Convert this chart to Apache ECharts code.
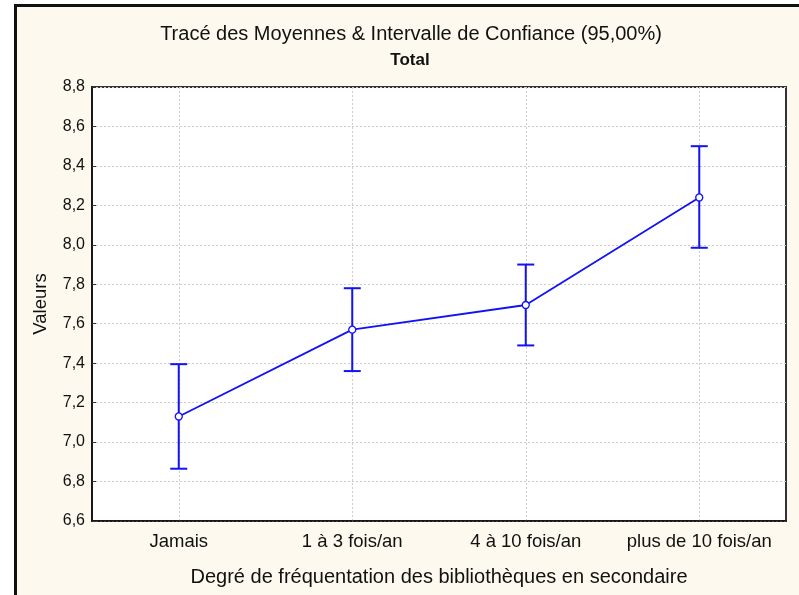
<!DOCTYPE html>
<html>
<head>
<meta charset="utf-8">
<script src="https://cdn.jsdelivr.net/npm/echarts@6/dist/echarts.min.js"></script>
<style>
  html, body { margin: 0; padding: 0; background: #ffffff; overflow: hidden; }
  #frame {
    position: absolute; left: 14px; top: 4px; width: 800px; height: 600px;
    border-left: 3px solid #111; border-top: 3px solid #111;
    background: #fef9ee;
  }
  #chart { position: absolute; left: 0; top: 0; width: 799px; height: 595px; }
</style>
</head>
<body>
<div id="frame"></div>
<div id="chart"></div>
<script>
const categories = ['Jamais', '1 à 3 fois/an', '4 à 10 fois/an', 'plus de 10 fois/an']
const means = [7.13, 7.57, 7.695, 8.24]
const lower = [6.865, 7.36, 7.49, 7.985]
const upper = [7.395, 7.78, 7.9, 8.5]

const blue = '#1212f5'
const font = 'Liberation Sans, Arial, sans-serif'

const errData = categories.map((c, i) => [i, lower[i], upper[i]])

const chart = echarts.init(document.getElementById('chart'))

function fmt(v) {
  return v.toFixed(1).replace('.', ',')
}

chart.setOption({
  backgroundColor: 'transparent',
  animation: false,
  title: [
    {
      text: 'Tracé des Moyennes & Intervalle de Confiance (95,00%)',
      left: 406,
      top: 19,
      textAlign: 'center',
      textStyle: { fontFamily: font, fontSize: 20, fontWeight: 'normal', color: '#111' }
    },
    {
      text: 'Total',
      left: 405,
      top: 47,
      textAlign: 'center',
      textStyle: { fontFamily: font, fontSize: 17, fontWeight: 'bold', color: '#111' }
    }
  ],
  grid: {
    left: 92,
    right: 13,
    top: 87,
    bottom: 74,
    show: true,
    backgroundColor: '#ffffff',
    borderColor: '#333',
    borderWidth: 2
  },
  xAxis: {
    type: 'category',
    data: categories,
    boundaryGap: true,
    name: 'Degré de fréquentation des bibliothèques en secondaire',
    nameLocation: 'middle',
    nameGap: 46,
    nameTextStyle: { fontFamily: font, fontSize: 20, color: '#111' },
    axisLine: { lineStyle: { color: '#111', width: 1.5 } },
    axisTick: { interval: 0, alignWithLabel: true, inside: true, length: 3, lineStyle: { color: '#333' } },
    axisLabel: { interval: 0, fontFamily: font, fontSize: 18.5, color: '#111', margin: 11 },
    splitLine: {
      show: true,
      interval: 0,
      alignWithLabel: true,
      lineStyle: { color: '#cccccc', type: [2, 2], width: 1 }
    }
  },
  yAxis: {
    type: 'value',
    min: 6.6,
    max: 8.8,
    interval: 0.2,
    name: 'Valeurs',
    nameLocation: 'middle',
    nameGap: 42,
    nameTextStyle: { fontFamily: font, fontSize: 18.5, color: '#111' },
    axisLine: { show: true, lineStyle: { color: '#111', width: 1.5 } },
    axisTick: { show: true, inside: true, length: 4, lineStyle: { color: '#333' } },
    axisLabel: { fontFamily: font, fontSize: 16, color: '#111', margin: 7, formatter: fmt },
    splitLine: {
      show: true,
      lineStyle: { color: '#cccccc', type: [2, 2], width: 1 }
    }
  },
  series: [
    {
      type: 'custom',
      data: errData,
      z: 2,
      renderItem(params, api) {
        const x = api.value(0)
        const lo = api.coord([x, api.value(1)])
        const hi = api.coord([x, api.value(2)])
        const hw = 8.5
        const style = { stroke: blue, lineWidth: 2 }
        return {
          type: 'group',
          children: [
            { type: 'line', shape: { x1: lo[0], y1: lo[1], x2: hi[0], y2: hi[1] }, style },
            { type: 'line', shape: { x1: hi[0] - hw, y1: hi[1], x2: hi[0] + hw, y2: hi[1] }, style },
            { type: 'line', shape: { x1: lo[0] - hw, y1: lo[1], x2: lo[0] + hw, y2: lo[1] }, style }
          ]
        }
      }
    },
    {
      type: 'line',
      data: means,
      z: 3,
      symbol: 'circle',
      symbolSize: 7,
      itemStyle: { color: '#ffffff', borderColor: blue, borderWidth: 1.3 },
      lineStyle: { color: blue, width: 1.8 }
    }
  ]
})
</script>
</body>
</html>
